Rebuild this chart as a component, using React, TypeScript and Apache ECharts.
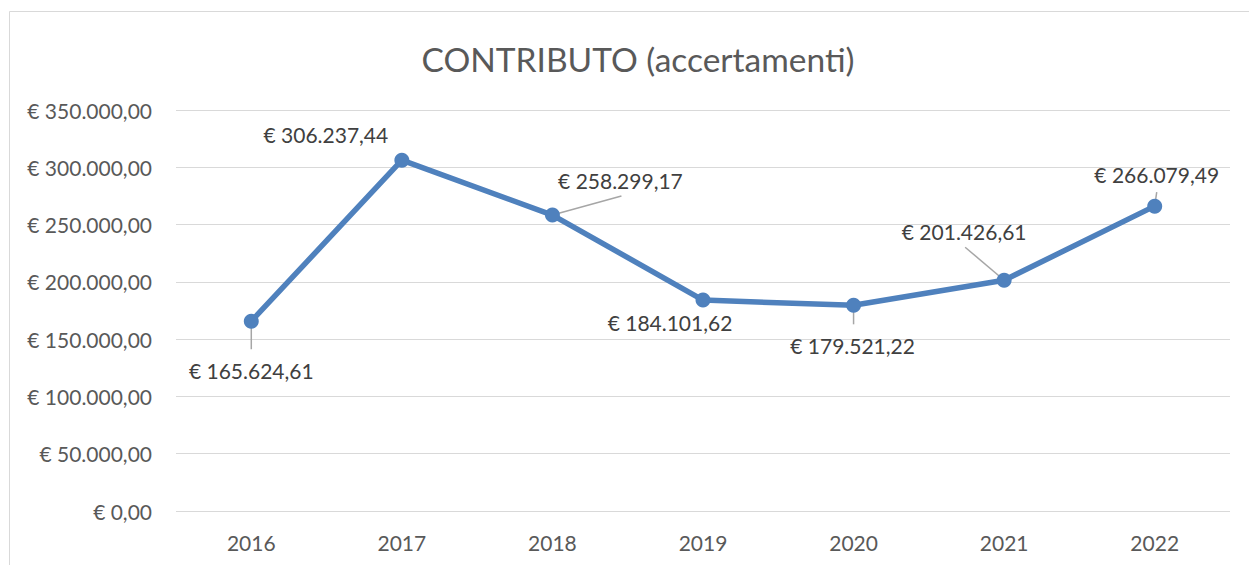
import React, { useEffect, useRef } from "react";
import * as echarts from "echarts";

const categories = ["2016", "2017", "2018", "2019", "2020", "2021", "2022"];
const values = [165624.61, 306237.44, 258299.17, 184101.62, 179521.22, 201426.61, 266079.49];
const labelOffsets: [number, number][] = [
  [0, 49],
  [-76, -26],
  [68, -35],
  [-33, 22],
  [-1, 40],
  [-40, -49],
  [2, -32],
];
const leaderOffsets: ([number, number] | null)[] = [
  [0, 28],
  null,
  [69, -19],
  null,
  [0, 19],
  [-39, -33],
  [2, -14],
];

function fmtEuro(v: number): string {
  const fixed = v.toFixed(2);
  const [intPart, dec] = fixed.split(".");
  const withDots = intPart.replace(/\B(?=(\d{3})+(?!\d))/g, ".");
  return "€ " + withDots + "," + dec;
}

const FONT = "Lato, 'Noto Sans', sans-serif";

export default function App() {
  const ref = useRef<HTMLDivElement>(null);
  useEffect(() => {
    if (!ref.current) return;
    const chart = echarts.init(ref.current, undefined, { renderer: "svg" });
    chart.setOption({
      animation: false,
      backgroundColor: "#ffffff",
      textStyle: { fontFamily: FONT },
      title: {
        text: "CONTRIBUTO (accertamenti)",
        left: 633,
        textAlign: "center",
        top: 37,
        textStyle: { fontFamily: FONT, fontSize: 33.5, fontWeight: "normal", color: "#595959" },
      },
      graphic: [
        {
          type: "rect",
          shape: { x: 9.5, y: 11.5, width: 1300, height: 700 },
          style: { fill: "none", stroke: "#d9d9d9", lineWidth: 1 },
          silent: true,
        },
      ],
      grid: { left: 176, right: 19, top: 110, bottom: 54, containLabel: false },
      xAxis: {
        type: "category",
        data: categories,
        boundaryGap: true,
        axisLine: { show: false },
        axisTick: { show: false },
        axisLabel: { margin: 21, fontSize: 21, color: "#595959", fontFamily: FONT },
      },
      yAxis: {
        type: "value",
        min: 0,
        max: 350000,
        interval: 50000,
        axisLine: { show: false },
        axisTick: { show: false },
        splitLine: { lineStyle: { color: "#d9d9d9", width: 1 } },
        axisLabel: {
          margin: 24,
          fontSize: 21,
          color: "#595959",
          fontFamily: FONT,
          formatter: (v: number) => fmtEuro(v),
        },
      },
      series: [
        {
          type: "custom",
          z: 1,
          silent: true,
          data: values.map((v, i) => [i, v]),
          encode: { x: 0, y: 1 },
          renderItem: (params: any, api: any) => {
            const o = leaderOffsets[params.dataIndex];
            if (!o) return null;
            const p = api.coord([api.value(0), api.value(1)]);
            return {
              type: "line",
              shape: { x1: p[0], y1: p[1], x2: p[0] + o[0], y2: p[1] + o[1] },
              style: { stroke: "#a6a6a6", lineWidth: 1.5 },
            };
          },
        },
        {
          type: "line",
          z: 2,
          data: values,
          symbol: "circle",
          symbolSize: 15,
          lineStyle: { color: "#4f81bd", width: 5.5 },
          itemStyle: { color: "#4f81bd" },
          label: {
            show: true,
            position: "inside",
            fontSize: 21,
            color: "#404040",
            fontFamily: FONT,
            formatter: (p: any) => fmtEuro(p.value),
          },
          labelLayout: (p: any) => {
            const o = labelOffsets[p.dataIndex];
            return { dx: o[0], dy: o[1] };
          },
        },
      ],
    });
    return () => chart.dispose();
  }, []);
  return (
    <div
      ref={ref}
      style={{ position: "absolute", left: 0, top: 0, width: 1249, height: 565 }}
    />
  );
}
